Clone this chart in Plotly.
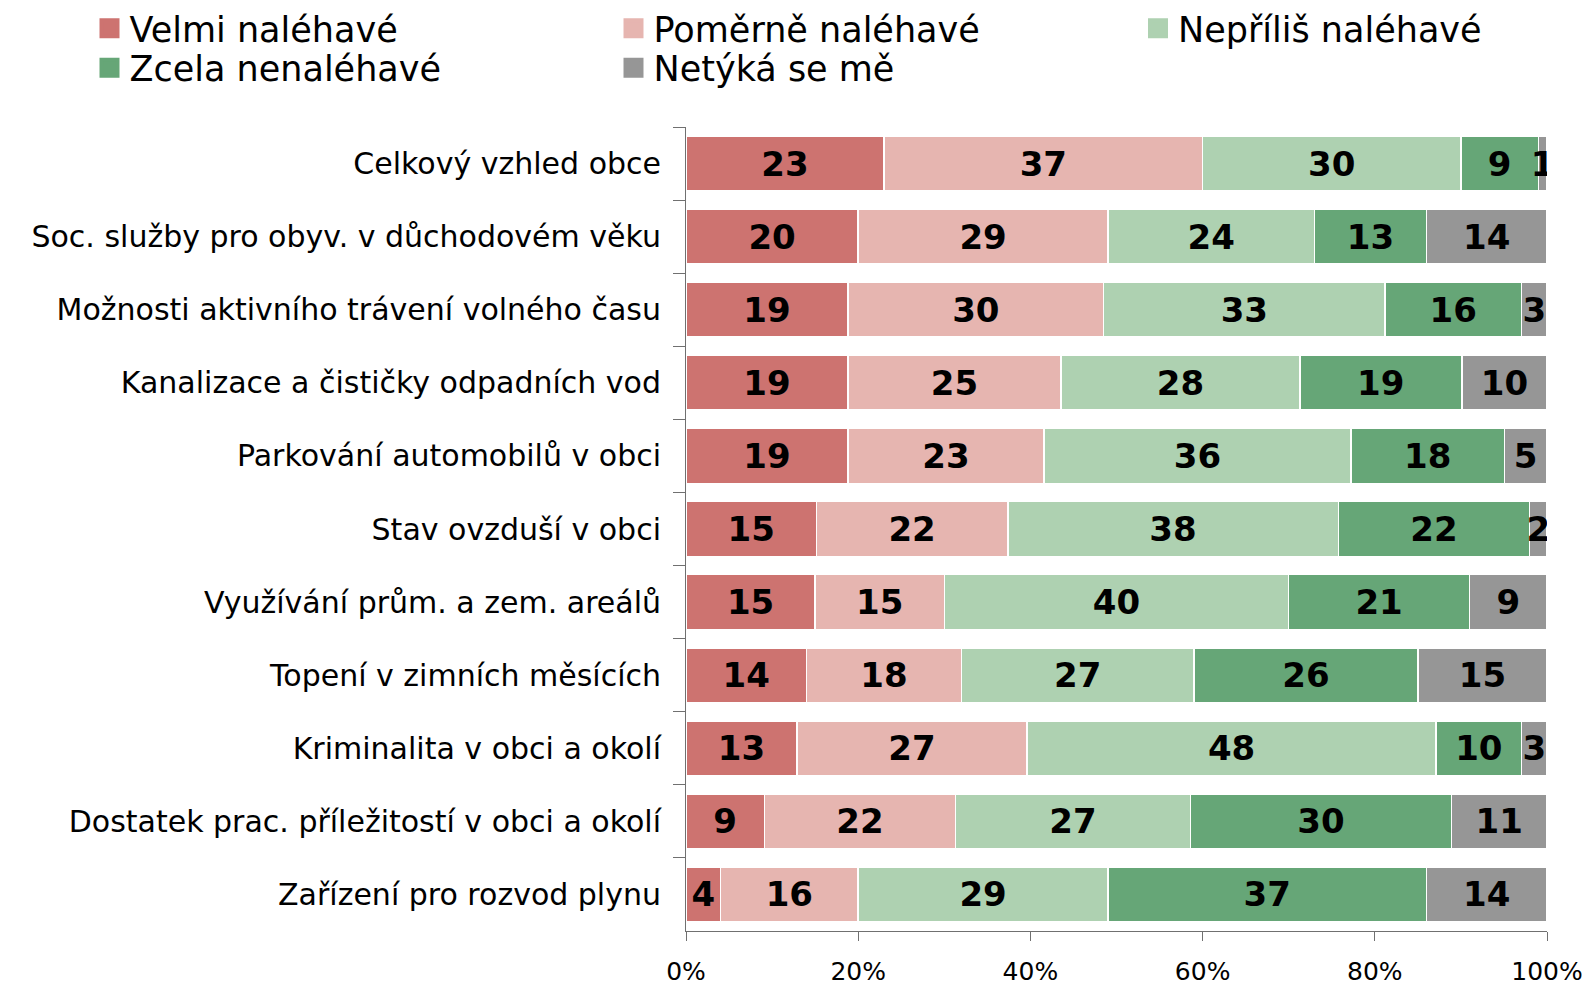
import plotly.graph_objects as go

categories = [
    "Celkový vzhled obce",
    "Soc. služby pro obyv. v důchodovém věku",
    "Možnosti aktivního trávení volného času",
    "Kanalizace a čističky odpadních vod",
    "Parkování automobilů v obci",
    "Stav ovzduší v obci",
    "Využívání prům. a zem. areálů",
    "Topení v zimních měsících",
    "Kriminalita v obci a okolí",
    "Dostatek prac. příležitostí v obci a okolí",
    "Zařízení pro rozvod plynu",
]
velmi = [23, 20, 19, 19, 19, 15, 15, 14, 13, 9, 4]
pomerne = [37, 29, 30, 25, 23, 22, 15, 18, 27, 22, 16]
neprilis = [30, 24, 33, 28, 36, 38, 40, 27, 48, 27, 29]
zcela = [9, 13, 16, 19, 18, 22, 21, 26, 10, 30, 37]
netyka = [1, 14, 3, 10, 5, 2, 9, 15, 3, 11, 14]

x_ticks = [0, 20, 40, 60, 80, 100]
x_tick_labels = ["0%", "20%", "40%", "60%", "80%", "100%"]

series = [
    ("Velmi naléhavé", velmi, "#CD7370"),
    ("Poměrně naléhavé", pomerne, "#E6B5B0"),
    ("Nepříliš naléhavé", neprilis, "#AED1B1"),
    ("Zcela nenaléhavé", zcela, "#66A677"),
    ("Netýká se mě", netyka, "#969696"),
]

# legend slot for each series: (legend id, left px, center y px)
legend_slots = [
    ("legend", 89.5, 28.5),
    ("legend2", 613.5, 28.5),
    ("legend3", 1138.0, 28.5),
    ("legend4", 89.5, 68.0),
    ("legend5", 613.5, 68.0),
]

W, H = 1588, 983
FONT = "DejaVu Sans"
AXIS_COLOR = "#707070"

fig = go.Figure()
for name, vals, color in series:
    fig.add_trace(go.Bar(
        y=categories, x=vals, name=name, orientation="h", showlegend=False,
        marker=dict(color=color, line=dict(color="white", width=1.5)),
        text=[str(v) for v in vals], textposition="inside", textangle=0,
        insidetextanchor="middle", constraintext="none",
        textfont=dict(family=FONT, size=34, color="black", weight="bold"),
    ))

legend_layout = {}
for (name, vals, color), (lid, lx, ly) in zip(series, legend_slots):
    fig.add_trace(go.Scatter(
        x=[None], y=[None], mode="markers", name=name, legend=lid,
        xaxis="x2", yaxis="y2",
        marker=dict(symbol="square", size=16, color=color,
                    line=dict(color=color, width=4)),
        showlegend=True, hoverinfo="skip",
    ))
    legend_layout[lid] = dict(
        x=lx / W, y=1 - ly / H, xref="container", yref="container",
        xanchor="left", yanchor="middle", orientation="v",
        font=dict(family=FONT, size=35, color="black"),
        bgcolor="rgba(0,0,0,0)", borderwidth=0, itemwidth=30,
    )

fig.update_layout(
    barmode="stack", barnorm="percent", bargap=0.25,
    width=W, height=H,
    paper_bgcolor="white", plot_bgcolor="white",
    margin=dict(l=686, r=41, t=127, b=52, autoexpand=False),
    uniformtext=dict(minsize=34, mode="show"),
    font=dict(family=FONT, color="black"),
    showlegend=True,
    xaxis=dict(
        range=[0, 100], tickvals=x_ticks, ticktext=x_tick_labels,
        showgrid=False, zeroline=False, showline=True, linecolor=AXIS_COLOR, linewidth=1,
        ticks="outside", ticklen=9, tickcolor=AXIS_COLOR, ticklabelstandoff=9,
        tickfont=dict(family=FONT, size=25, color="black"),
    ),
    yaxis=dict(
        autorange="reversed", showgrid=False, showline=True, linecolor=AXIS_COLOR, linewidth=1,
        ticks="outside", ticklen=12, tickcolor=AXIS_COLOR, tickson="boundaries",
        ticklabelstandoff=18,
        tickfont=dict(family=FONT, size=30, color="black"),
    ),
    xaxis2=dict(visible=False, range=[0, 1], domain=[0, 0.01], anchor="y2", fixedrange=True),
    yaxis2=dict(visible=False, range=[0, 1], domain=[0, 0.01], anchor="x2", fixedrange=True),
    **legend_layout,
)
fig.write_html(
    "out.html",
    config={"displayModeBar": False},
    post_script="document.body.style.margin='0';document.body.style.overflow='hidden';",
)
